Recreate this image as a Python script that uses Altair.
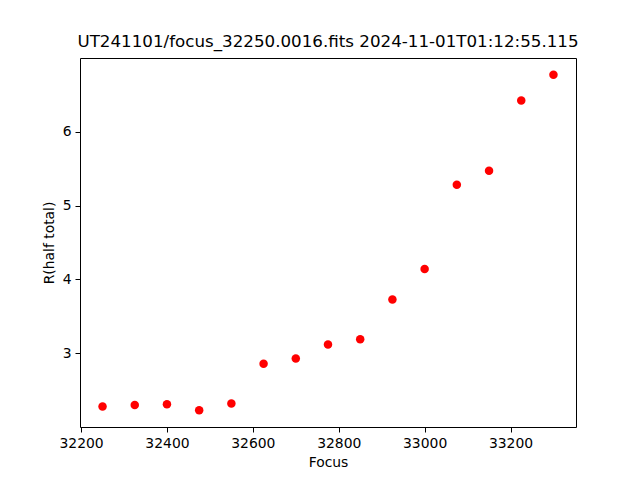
import altair as alt
import pandas as pd

focus = [32250, 32325, 32400, 32475, 32550, 32625, 32700, 32775, 32850, 32925, 33000, 33075, 33150, 33225, 33300]
r_half = [2.28, 2.30, 2.31, 2.23, 2.32, 2.86, 2.93, 3.12, 3.19, 3.73, 4.14, 5.28, 5.47, 6.42, 6.77]
x_ticks = [32200, 32400, 32600, 32800, 33000, 33200]
y_ticks = [3, 4, 5, 6]

df = pd.DataFrame({"Focus": focus, "R": r_half})

FONT = "DejaVu Sans"

chart = alt.Chart(df).mark_circle(color="red", opacity=1, size=72).encode(
    x=alt.X("Focus:Q", scale=alt.Scale(domain=[32197.5, 33352.5], nice=False, zero=False),
            axis=alt.Axis(values=x_ticks, title="Focus", format="d")),
    y=alt.Y("R:Q", scale=alt.Scale(domain=[2.0035, 6.9965], nice=False, zero=False),
            axis=alt.Axis(values=y_ticks, title="R(half total)", format="d")),
).properties(
    width=496, height=369,
    title=alt.Title("UT241101/focus_32250.0016.fits 2024-11-01T01:12:55.115",
                    font=FONT, fontSize=16.7, fontWeight="normal", color="black", offset=7),
    autosize=alt.AutoSizeParams(type="none"),
    padding={"left": 72, "top": 50, "right": 56, "bottom": 45},
).configure_view(
    stroke="black", strokeWidth=1
).configure_axis(
    grid=False, domain=False, tickColor="black", tickSize=5, tickWidth=1,
    labelFont=FONT, labelFontSize=13.9, labelColor="black", labelPadding=4,
    titleFont=FONT, titleFontSize=13.9, titleColor="black", titleFontWeight="normal",
).configure_axisX(titlePadding=6).configure_axisY(titlePadding=6)

chart.save("out.html", embed_options={"renderer": "svg", "actions": False})
